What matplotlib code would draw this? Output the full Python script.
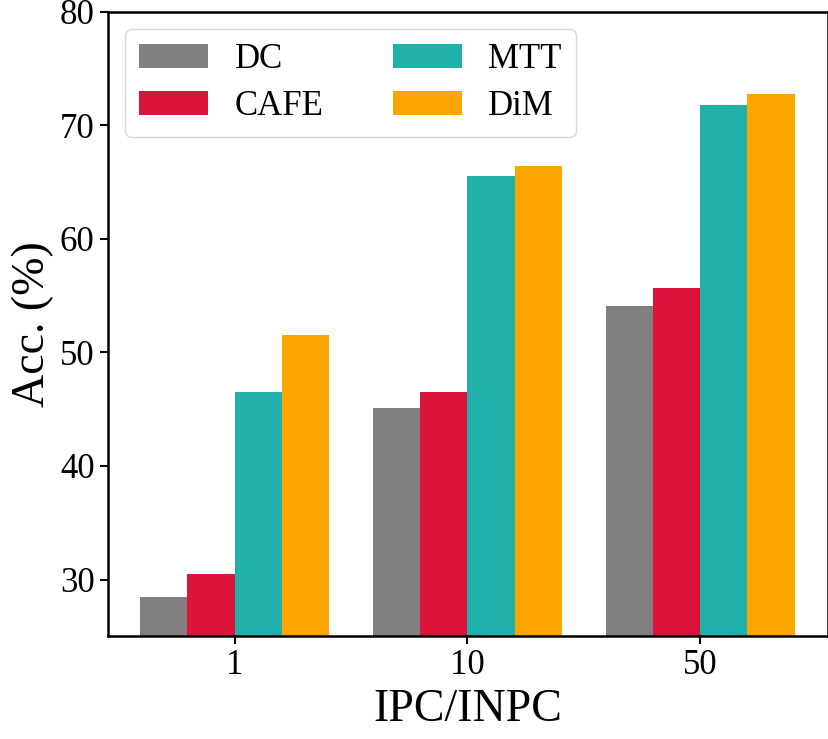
import matplotlib
matplotlib.use("Agg")
import matplotlib.pyplot as plt
import numpy as np

plt.rcParams['font.family'] = ['Liberation Serif', 'DejaVu Serif']
plt.rcParams['mathtext.fontset'] = 'stix'

categories = ['1', '10', '50']
methods = ['DC', 'CAFE', 'MTT', 'DiM']
dc = [28.5, 45.1, 54.1]
cafe = [30.5, 46.5, 55.7]
mtt = [46.5, 65.5, 71.8]
dim = [51.5, 66.4, 72.8]
colors = ['grey', 'crimson', 'lightseagreen', 'orange']

series = [dc, cafe, mtt, dim]
x = np.arange(len(categories))
w = 0.203

fig = plt.figure(figsize=(8.29, 7.39), dpi=100)
ax = fig.add_axes([0.130, 0.139, 0.869, 0.845])
for i, (vals, name, c) in enumerate(zip(series, methods, colors)):
    ax.bar(x + (i - 1.5) * w, vals, w, color=c, label=name)

ax.set_ylim(25, 80)
ax.set_xlim(-0.545, 2.55)
ax.set_xticks(x)
ax.set_xticklabels(categories)
ax.set_yticks([30, 40, 50, 60, 70, 80])
ax.tick_params(labelsize=25, width=1.5, length=6)
for s in ax.spines.values():
    s.set_linewidth(1.8)
ax.set_xlabel('IPC/INPC', fontsize=33)
ax.set_ylabel('Acc. (%)', fontsize=33)
ax.legend(ncol=2, fontsize=25, loc='upper left', handlelength=2.0,
          handletextpad=0.75, columnspacing=2.0, labelspacing=0.4)

fig.savefig('out.png', dpi=100)
